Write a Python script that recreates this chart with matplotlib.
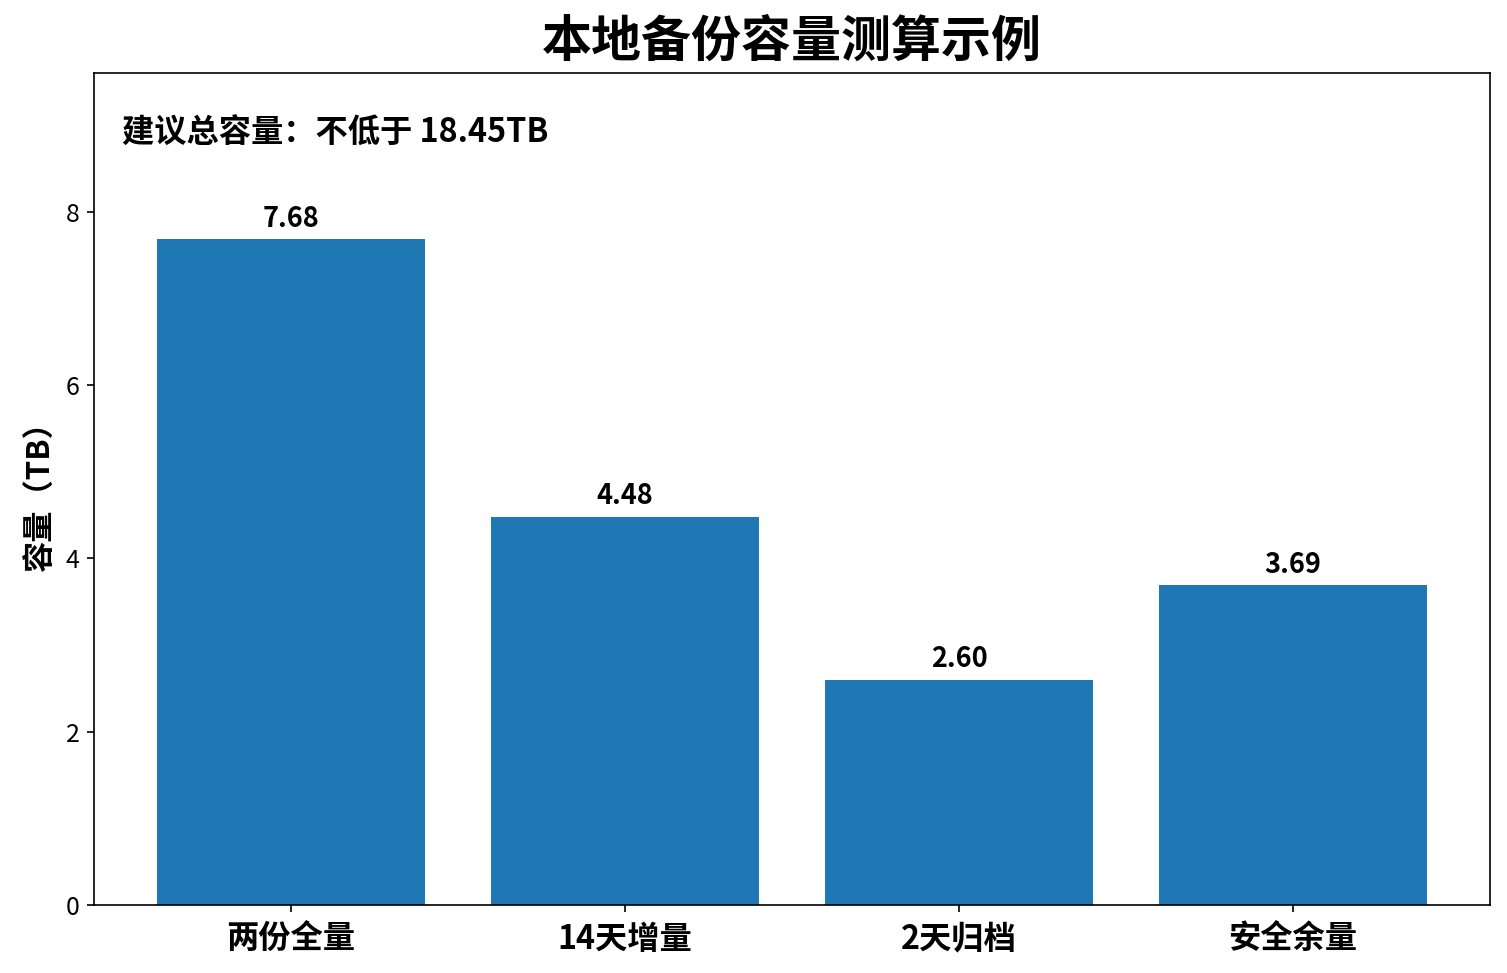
import matplotlib
matplotlib.use("Agg")
import matplotlib.pyplot as plt

plt.rcParams['font.family'] = ['Noto Sans CJK SC', 'DejaVu Sans']

categories = ["两份全量", "14天增量", "2天归档", "安全余量"]
values = [7.68, 4.48, 2.60, 3.69]
total_text = "建议总容量：不低于 18.45TB"
title = "本地备份容量测算示例"
ylabel = "容量（TB）"

W, H, DPI = 1507, 973, 150
fig = plt.figure(figsize=(W / DPI, H / DPI), dpi=DPI)
ax = fig.add_axes([94 / W, 1 - 905 / H, (1490 - 94) / W, (905 - 73) / H])

bars = ax.bar(categories, values, color="#1f77b4", width=0.8)
ax.set_ylim(0, max(values) * 1.25)

for b, v in zip(bars, values):
    ax.annotate(f"{v:.2f}", (b.get_x() + b.get_width() / 2, v),
                xytext=(0, 3), textcoords="offset points",
                ha="center", va="bottom", fontsize=13, fontweight="bold")

ax.text(0.02, 0.947, total_text, transform=ax.transAxes, ha="left", va="top",
        fontsize=15.5, fontweight="bold")

ax.set_title(title, fontsize=24, fontweight="bold", pad=8)
ax.set_ylabel(ylabel, fontsize=15, fontweight="bold")
ax.tick_params(axis="y", labelsize=12)
ax.tick_params(axis="x", labelsize=15.5, pad=5)
for lab in ax.get_xticklabels():
    lab.set_fontweight("bold")

fig.savefig("out.png", dpi=DPI)
